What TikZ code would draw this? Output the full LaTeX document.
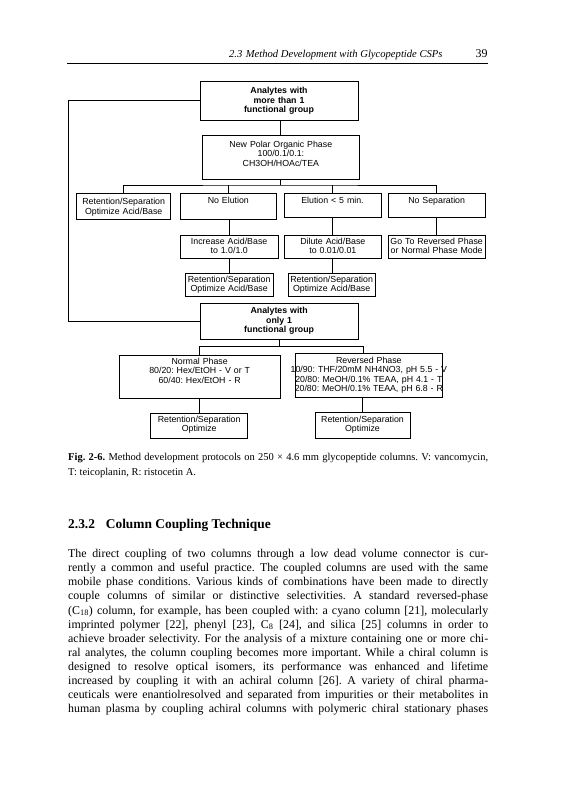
\documentclass[tikz,border=0pt]{standalone}
\usepackage{fontspec}
\setmainfont{Liberation Serif}
\newfontfamily\diagfont{Liberation Sans}
\frenchspacing
\tikzset{
  bx/.style={draw, line width=0.9pt, inner sep=0pt, align=center, anchor=base,
             font=\diagfont\fontsize{8.8}{9.5}\selectfont},
  ln/.style={line width=0.9pt},
}
\newcommand{\fl}[1]{\hbox to 420pt{#1}}
\begin{document}
\begin{tikzpicture}[x=1pt,y=-1pt]
\fill[white] (0,0) rectangle (572,800);
\useasboundingbox (0,0) rectangle (572,800);

% running head
\node[anchor=base east, inner sep=0pt, font=\fontsize{10.6}{12}\selectfont\itshape] (hd) at (442.7,57.3) {2.3\hspace{3.5pt}Method Development with Glycopeptide CSPs};
\node[anchor=base east, inner sep=0pt, font=\fontsize{11.9}{14}\selectfont] (pg) at (487.7,57.3) {39};
\draw[line width=0.6pt] (67.3,63.3) -- (487.7,63.3);

% flowchart boxes
\node[bx, text width=158pt, text height=12.5pt, text depth=26.5pt] (A1) at (279,93.5) {\bfseries Analytes with\\more than 1\\functional group};
\node[bx, text width=156.3pt, text height=12pt, text depth=32.3pt] (NPO) at (280.85,147) {New Polar Organic Phase\\100/0.1/0.1:\\CH3OH/HOAc/TEA};
\node[bx, text width=94pt, text height=11.2pt, text depth=14.8pt] (R1) at (123.7,204.5) {Retention/Separation\\Optimize Acid/Base};
\node[bx, text width=96.7pt, text height=10pt, text depth=16pt] (NE) at (228.35,203) {No Elution};
\node[bx, text width=97pt, text height=10pt, text depth=14.7pt] (E5) at (332.5,203) {Elution < 5 min.};
\node[bx, text width=96.7pt, text height=10pt, text depth=14.7pt] (NS) at (436.65,203) {No Separation};
\node[bx, text width=98.3pt, text height=9pt, text depth=14.3pt] (IA) at (229.15,244) {Increase Acid/Base\\to 1.0/1.0};
\node[bx, text width=97.7pt, text height=9pt, text depth=14pt] (DA) at (332.85,244) {Dilute Acid/Base\\to 0.01/0.01};
\node[bx, text width=96.7pt, text height=9pt, text depth=14pt] (GT) at (436.65,244) {Go To Reversed Phase\\or Normal Phase Mode};
\node[bx, text width=88.3pt, text height=8.7pt, text depth=14.7pt] (R2a) at (229.15,282) {Retention/Separation\\Optimize Acid/Base};
\node[bx, text width=86.7pt, text height=9pt, text depth=14pt] (R2b) at (331.65,282) {Retention/Separation\\Optimize Acid/Base};
\node[bx, text width=158.3pt, text height=10.4pt, text depth=25.6pt] (A2) at (279.15,313.7) {\bfseries Analytes with\\only 1\\functional group};
\node[bx, text width=160.7pt, text height=9pt, text depth=34.3pt] (NP) at (199.65,364) {Normal Phase\\80/20: Hex/EtOH - V or T\\60/40: Hex/EtOH - R};
\node[bx, text width=147.7pt, text height=9.7pt, text depth=34pt] (RP) at (368.85,363) {Reversed Phase\\\makebox[\linewidth][c]{10/90: THF/20mM NH4NO3, pH 5.5 - V}\\\makebox[\linewidth][c]{20/80: MeOH/0.1\% TEAA, pH 4.1 - T}\\\makebox[\linewidth][c]{20/80: MeOH/0.1\% TEAA, pH 6.8 - R}};
\node[bx, text width=97pt, text height=9pt, text depth=16pt] (O1) at (199.2,422.3) {Retention/Separation\\Optimize};
\node[bx, text width=95pt, text height=9.6pt, text depth=15.7pt] (O2) at (362.5,422.3) {Retention/Separation\\Optimize};

% connectors
\coordinate (bus) at (280.85,185);
\coordinate (spL) at (199.65,346.7);
\coordinate (spR) at (363.3,346.7);
\draw[ln] (A1.west) -- ++(-130.7,0) |- (A2.west);
\draw[ln] (NPO.north |- A1.south) -- (NPO.north);
\draw[ln] (NPO.south) -- (bus);
\draw[ln] (R1.north) |- (bus) -| (NS.north);
\draw[ln] (NE.north) -- (NE.north |- bus);
\draw[ln] (E5.north) -- (E5.north |- bus);
\draw[ln] (IA.north |- NE.south) -- (IA.north);
\draw[ln] (DA.north |- E5.south) -- (DA.north);
\draw[ln] (GT.north |- NS.south) -- (GT.north);
\draw[ln] (IA.south) -- (R2a.north);
\draw[ln] (DA.south) -- (DA.south |- R2b.north);
\draw[ln] (A2.south) -- (A2.south |- spR);
\draw[ln] (NP.north) -- (spL) -- (spR) -- (spR |- RP.north);
\draw[ln] (O1.north |- NP.south) -- (O1.north);
\draw[ln] (O2.north |- RP.south) -- (O2.north);

% caption
\node[anchor=base west, inner sep=0pt, font=\fontsize{10.5}{14.3}\selectfont] (cap) at (68,460.7) {\parbox[t]{420pt}{%
\fl{\textbf{Fig. 2-6.} Method development protocols on 250 × 4.6 mm glycopeptide columns. V: vancomycin,}%
\hbox{T: teicoplanin, R: ristocetin A.}}};

% section heading
\node[anchor=base west, inner sep=0pt, font=\fontsize{13.4}{16}\selectfont\bfseries] (sec) at (68,528) {2.3.2\hspace{10.9pt}Column Coupling Technique};

% body text
\node[anchor=base west, inner sep=0pt, font=\fontsize{11.9}{14.13}\selectfont] (body) at (68,557.5) {\parbox[t]{420pt}{%
\fl{The direct coupling of two columns through a low dead volume connector is cur-}%
\fl{rently a common and useful practice. The coupled columns are used with the same}%
\fl{mobile phase conditions. Various kinds of combinations have been made to directly}%
\fl{couple columns of similar or distinctive selectivities. A standard reversed-phase}%
\fl{(C\textsubscript{18}) column, for example, has been coupled with: a cyano column [21], molecularly}%
\fl{imprinted polymer [22], phenyl [23], C\textsubscript{8} [24], and silica [25] columns in order to}%
\fl{achieve broader selectivity. For the analysis of a mixture containing one or more chi-}%
\fl{ral analytes, the column coupling becomes more important. While a chiral column is}%
\fl{designed to resolve optical isomers, its performance was enhanced and lifetime}%
\fl{increased by coupling it with an achiral column [26]. A variety of chiral pharma-}%
\fl{ceuticals were enantiolresolved and separated from impurities or their metabolites in}%
\fl{human plasma by coupling achiral columns with polymeric chiral stationary phases}}};
\end{tikzpicture}
\end{document}
